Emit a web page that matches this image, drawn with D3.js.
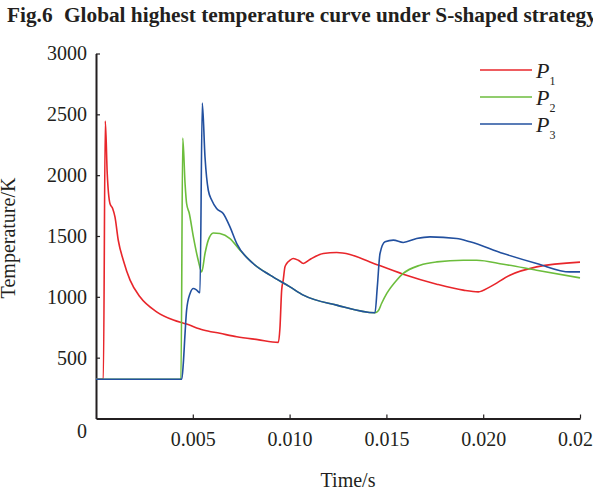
<!DOCTYPE html>
<html>
<head>
<meta charset="utf-8">
<script src="https://cdn.jsdelivr.net/npm/d3@7"></script>
<style>
  body { margin: 0; background: #fff; }
  text { font-family: "Liberation Serif", "Times New Roman", serif; fill: #231f20; }
</style>
</head>
<body>
<div id="chart"></div>
<script>
// data (time in s, temperature in K)
var p1Time = [0, 0.00038, 0.00048, 0.00058, 0.00072, 0.00086, 0.00098, 0.00115, 0.00141, 0.00176, 0.00227, 0.00313, 0.0040, 0.00468, 0.00554, 0.0064, 0.00727, 0.00835, 0.00942, 0.0095, 0.00959, 0.00967, 0.00976, 0.00985, 0.01002, 0.01019, 0.01045, 0.01071, 0.01105, 0.01174, 0.01243, 0.01312, 0.01415, 0.01587, 0.0176, 0.01897, 0.01975, 0.02035, 0.02138, 0.02276, 0.025];
var p1Temp = [323, 323, 2445, 2013, 1767, 1726, 1657, 1465, 1301, 1137, 1000, 877, 809, 776, 727, 700, 672, 648, 626, 740, 1055, 1137, 1246, 1274, 1301, 1315, 1301, 1274, 1307, 1356, 1364, 1348, 1287, 1186, 1104, 1055, 1041, 1082, 1178, 1246, 1285];

var p2Time = [0, 0.00439, 0.00448, 0.0046, 0.00468, 0.00482, 0.00503, 0.00528, 0.00546, 0.00563, 0.0058, 0.00606, 0.0064, 0.00692, 0.00744, 0.00812, 0.00899, 0.01002, 0.01071, 0.01243, 0.01441, 0.01458, 0.01475, 0.01502, 0.01553, 0.01587, 0.01674, 0.0176, 0.01897, 0.01966, 0.02104, 0.02276, 0.025];
var p2Temp = [323, 323, 2305, 1931, 1767, 1685, 1493, 1301, 1205, 1356, 1466, 1525, 1520, 1479, 1383, 1274, 1178, 1082, 1014, 932, 869, 885, 945, 1028, 1137, 1192, 1260, 1287, 1301, 1301, 1268, 1219, 1156];

var p3Time = [0, 0.00443, 0.00451, 0.0046, 0.00468, 0.00486, 0.00503, 0.0052, 0.00537, 0.00549, 0.00563, 0.0058, 0.00598, 0.00623, 0.00657, 0.00692, 0.00727, 0.00812, 0.00899, 0.01002, 0.01071, 0.01243, 0.01441, 0.01453, 0.01467, 0.01493, 0.01536, 0.01587, 0.01656, 0.01725, 0.01863, 0.01932, 0.02104, 0.02276, 0.02448, 0.025];
var p3Temp = [323, 323, 453, 700, 891, 1028, 1069, 1055, 1033, 2593, 2149, 1876, 1794, 1726, 1685, 1575, 1438, 1274, 1178, 1082, 1014, 932, 869, 1082, 1356, 1452, 1466, 1447, 1479, 1493, 1479, 1452, 1356, 1274, 1205, 1205];

var seriesNames = ["1", "2", "3"];
var xTicks = [0.005, 0.010, 0.015, 0.020, 0.025];
var yTicks = [500, 1000, 1500, 2000, 2500, 3000];

var series = [
    { name: seriesNames[0], t: p1Time, v: p1Temp, color: "#e8262b" },
    { name: seriesNames[1], t: p2Time, v: p2Temp, color: "#6cbd3c" },
    { name: seriesNames[2], t: p3Time, v: p3Temp, color: "#22509f" }
];

var width = 593, height = 491;
var svg = d3.select("#chart")
    .append("svg")
    .attr("width", width)
    .attr("height", height);

// title
svg.append("text")
    .attr("x", 7).attr("y", 22)
    .style("font-weight", "bold").style("font-size", "21.3px")
    .text("Fig.6");
svg.append("text")
    .attr("x", 64).attr("y", 22)
    .style("font-weight", "bold").style("font-size", "21.3px")
    .text("Global highest temperature curve under S-shaped strategy");

// scales
var x = d3.scaleLinear().domain([0, 0.025]).range([96, 580]);
var y = d3.scaleLinear().domain([0, 3000]).range([418.5, 53.5]);

// X axis
var xAxis = svg.append("g")
    .attr("transform", "translate(0," + y(0) + ")")
    .call(d3.axisBottom(x).tickValues(xTicks).tickFormat(d3.format(".3f")).tickSize(-4).tickSizeOuter(0).tickPadding(13));
xAxis.select(".domain").attr("stroke", "#231f20").attr("stroke-width", 2);
xAxis.selectAll(".tick line").attr("stroke", "#231f20").attr("stroke-width", 1.2);
xAxis.selectAll(".tick text").style("font-size", "20px").attr("font-family", null);

// Y axis
var yAxis = svg.append("g")
    .attr("transform", "translate(" + x(0) + ",0)")
    .call(d3.axisLeft(y).tickValues(yTicks).tickFormat(d3.format("d")).tickSize(-4).tickSizeOuter(0).tickPadding(9));
yAxis.select(".domain").attr("stroke", "#231f20").attr("stroke-width", 2);
yAxis.selectAll(".tick line").attr("stroke", "#231f20").attr("stroke-width", 1.2);
yAxis.selectAll(".tick text").style("font-size", "20px").attr("font-family", null);

// origin label
svg.append("text")
    .attr("x", 82).attr("y", 438)
    .attr("text-anchor", "middle")
    .style("font-size", "20px")
    .text("0");

// axis titles
svg.append("text")
    .attr("x", 348).attr("y", 487)
    .attr("text-anchor", "middle")
    .style("font-size", "20px")
    .text("Time/s");
svg.append("text")
    .attr("transform", "translate(15,238) rotate(-90)")
    .attr("text-anchor", "middle")
    .style("font-size", "20px")
    .text("Temperature/K");

// lines
var line = d3.line()
    .x(function (d) { return x(d[0]); })
    .y(function (d) { return y(d[1]); })
    .curve(d3.curveMonotoneX);

svg.append("g")
    .selectAll("path")
    .data(series)
    .enter().append("path")
    .attr("fill", "none")
    .attr("stroke", function (d) { return d.color; })
    .attr("stroke-width", 1.6)
    .attr("d", function (d) { return line(d.t.map(function (t, i) { return [t, d.v[i]]; })); });

// legend
var legend = svg.append("g")
    .selectAll("g")
    .data(series)
    .enter().append("g")
    .attr("transform", function (d, i) { return "translate(0," + (70 + i * 27) + ")"; });
legend.append("line")
    .attr("x1", 480).attr("x2", 532)
    .attr("stroke", function (d) { return d.color; })
    .attr("stroke-width", 1.6);
var lab = legend.append("text")
    .attr("x", 536).attr("y", 8)
    .style("font-size", "22px");
lab.append("tspan").style("font-style", "italic").text("P");
lab.append("tspan").attr("dy", 7).style("font-size", "12px").text(function (d) { return d.name; });
</script>
</body>
</html>
